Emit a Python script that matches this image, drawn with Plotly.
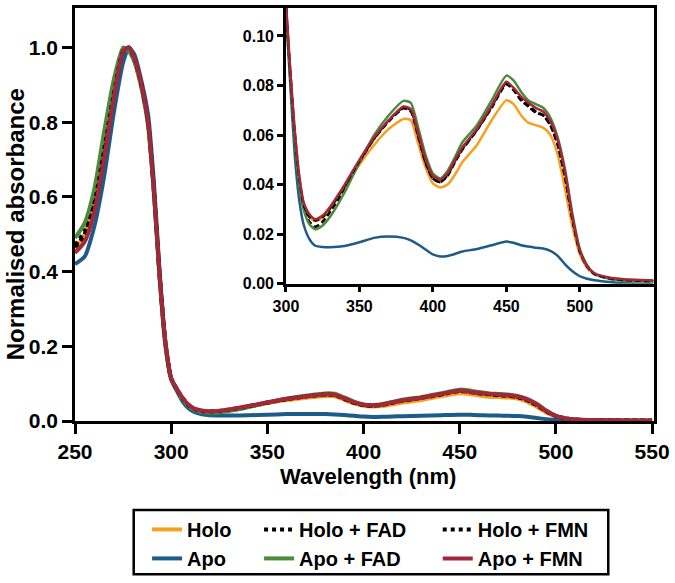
import plotly.graph_objects as go

wavelength = [250, 255, 260, 265, 270, 275, 278, 281, 285, 288, 291, 294, 297, 300, 303, 306, 309, 312, 316, 320,
              325, 330, 340, 350, 360, 370, 380, 385, 390, 395, 400, 405, 410, 415, 420, 430, 440, 450, 455, 460,
              465, 470, 475, 480, 485, 490, 495, 500, 505, 510, 520, 530, 540, 550]

holo = [0.46, 0.50, 0.585, 0.73, 0.88, 0.99, 1.0, 0.97, 0.89, 0.80, 0.62, 0.39, 0.21, 0.114, 0.085, 0.06, 0.042, 0.031, 0.027, 0.0253,
        0.0265, 0.030, 0.039, 0.048, 0.056, 0.0625, 0.0665, 0.066, 0.0565, 0.047, 0.0405, 0.0388, 0.040, 0.044, 0.049, 0.056, 0.066, 0.074, 0.0725, 0.068,
        0.065, 0.064, 0.063, 0.060, 0.052, 0.038, 0.023, 0.012, 0.0065, 0.0038, 0.0022, 0.0017, 0.0015, 0.0014]

apo = [0.42, 0.44, 0.52, 0.65, 0.82, 0.96, 1.0, 0.98, 0.90, 0.82, 0.64, 0.40, 0.21, 0.112, 0.08, 0.052, 0.034, 0.024, 0.018, 0.0153,
       0.0148, 0.0147, 0.0152, 0.0167, 0.0185, 0.019, 0.0185, 0.0175, 0.0158, 0.0138, 0.0118, 0.011, 0.0112, 0.012, 0.013, 0.014, 0.0155, 0.017, 0.0165, 0.0155,
       0.015, 0.0145, 0.0142, 0.0132, 0.0112, 0.0078, 0.005, 0.003, 0.002, 0.0014, 0.0007, 0.0002, 0.0, 0.0]

holo_fad = [0.47, 0.51, 0.60, 0.75, 0.89, 0.995, 0.995, 0.965, 0.885, 0.795, 0.615, 0.385, 0.205, 0.113, 0.084, 0.059, 0.041, 0.031, 0.025, 0.023,
            0.025, 0.029, 0.038, 0.049, 0.0585, 0.066, 0.0712, 0.070, 0.060, 0.049, 0.0425, 0.041, 0.0438, 0.0495, 0.0545, 0.062, 0.0715, 0.081, 0.0785, 0.0745,
            0.072, 0.0695, 0.068, 0.064, 0.056, 0.043, 0.026, 0.013, 0.0068, 0.0038, 0.002, 0.0014, 0.0012, 0.001]

apo_fad = [0.49, 0.53, 0.62, 0.77, 0.91, 1.0, 0.99, 0.96, 0.88, 0.79, 0.61, 0.38, 0.20, 0.112, 0.083, 0.058, 0.040, 0.030, 0.024, 0.022,
           0.0235, 0.027, 0.037, 0.049, 0.060, 0.068, 0.0738, 0.073, 0.063, 0.052, 0.0445, 0.0425, 0.0455, 0.051, 0.057, 0.064, 0.074, 0.084, 0.082, 0.0775,
           0.074, 0.0725, 0.071, 0.067, 0.059, 0.046, 0.028, 0.014, 0.0075, 0.004, 0.002, 0.0012, 0.001, 0.001]

holo_fmn = [0.465, 0.50, 0.58, 0.72, 0.87, 0.99, 1.0, 0.97, 0.89, 0.80, 0.62, 0.39, 0.21, 0.114, 0.085, 0.061, 0.043, 0.032, 0.027, 0.0255,
            0.027, 0.0305, 0.0395, 0.0495, 0.0585, 0.0655, 0.0708, 0.0695, 0.0595, 0.049, 0.0425, 0.041, 0.0435, 0.049, 0.054, 0.062, 0.071, 0.0805, 0.078, 0.074,
            0.0715, 0.069, 0.068, 0.064, 0.056, 0.043, 0.026, 0.013, 0.007, 0.004, 0.0022, 0.0015, 0.0012, 0.001]

apo_fmn = [0.45, 0.48, 0.56, 0.70, 0.86, 0.99, 1.0, 0.97, 0.89, 0.80, 0.62, 0.39, 0.21, 0.115, 0.086, 0.062, 0.044, 0.033, 0.028, 0.026,
           0.0275, 0.031, 0.040, 0.050, 0.059, 0.066, 0.0715, 0.0705, 0.061, 0.0505, 0.0435, 0.042, 0.0445, 0.050, 0.055, 0.0625, 0.072, 0.0815, 0.079, 0.0755,
           0.073, 0.071, 0.0695, 0.0655, 0.058, 0.045, 0.027, 0.0135, 0.007, 0.0042, 0.0025, 0.0018, 0.0015, 0.0013]

main_xticks = [250, 300, 350, 400, 450, 500, 550]
main_yticks = [0.0, 0.2, 0.4, 0.6, 0.8, 1.0]
inset_xticks = [300, 350, 400, 450, 500]
inset_yticks = [0.00, 0.02, 0.04, 0.06, 0.08, 0.10]

series = [
    ("Holo", holo, "#F5A01E", "solid", "legend"),
    ("Apo", apo, "#1D5C88", "solid", "legend"),
    ("Holo + FAD", holo_fad, "#000000", "dot", "legend2"),
    ("Apo + FAD", apo_fad, "#4B8B3B", "solid", "legend2"),
    ("Holo + FMN", holo_fmn, "#000000", "dot", "legend3"),
    ("Apo + FMN", apo_fmn, "#A3263B", "solid", "legend3"),
]

FONT = "Liberation Sans, Arial, sans-serif"
fig = go.Figure()

for name, vals, color, dash, lg in series:
    fig.add_trace(go.Scatter(
        x=wavelength, y=vals, name=name, mode="lines",
        line=dict(color=color, width=4, dash=dash, shape="spline", smoothing=0.6),
        legend=lg, xaxis="x", yaxis="y"))

for name, vals, color, dash, lg in series:
    fig.add_trace(go.Scatter(
        x=wavelength, y=vals, name=name, mode="lines", showlegend=False,
        line=dict(color=color, width=2.5, dash=("6px,3px" if dash == "dot" else "solid"),
                  shape="spline", smoothing=0.6),
        xaxis="x2", yaxis="y2"))

axis_common = dict(showline=True, linecolor="black", linewidth=2.5, mirror=True,
                   ticks="outside", tickcolor="black", tickwidth=2.5,
                   showgrid=False, zeroline=False)

legend_common = dict(orientation="v", bgcolor="rgba(0,0,0,0)", borderwidth=0,
                     font=dict(family=FONT, size=20, color="black", weight="bold"),
                     yanchor="top", xanchor="left", y=-0.2153, tracegroupgap=0)

fig.update_layout(
    width=675, height=583,
    margin=dict(l=75, r=18, t=5, b=160),
    paper_bgcolor="white", plot_bgcolor="white",
    font=dict(family=FONT, color="black"),
    xaxis=dict(range=[250, 551], tickvals=main_xticks, ticklen=10,
               tickfont=dict(family=FONT, size=21, weight="bold"), **axis_common),
    yaxis=dict(range=[0, 1.106], tickvals=main_yticks, tickformat=".1f", ticklen=10,
               tickfont=dict(family=FONT, size=21, weight="bold"), **axis_common),
    xaxis2=dict(domain=[0.3643, 1.0], anchor="y2", range=[300, 550.5], tickvals=inset_xticks, ticklen=6,
                tickfont=dict(family=FONT, size=16, weight="bold"), **axis_common),
    yaxis2=dict(domain=[0.3325, 1.0], anchor="x2", range=[0, 0.1113], tickvals=inset_yticks,
                tickformat=".2f", ticklen=6,
                tickfont=dict(family=FONT, size=16, weight="bold"), **axis_common),
    legend=dict(x=0.1245, **legend_common),
    legend2=dict(x=0.3179, **legend_common),
    legend3=dict(x=0.6265, **legend_common),
    shapes=[dict(type="rect", xref="paper", yref="paper",
                 x0=0.1014, x1=0.921, y0=-0.3708, y1=-0.2153,
                 line=dict(color="black", width=2.5), fillcolor="rgba(0,0,0,0)")],
    annotations=[
        dict(text="Normalised absorbance", xref="paper", yref="paper", x=-0.1015, y=0.477,
             textangle=-90, showarrow=False, xanchor="center", yanchor="middle",
             font=dict(family=FONT, size=24, color="black", weight="bold")),
        dict(text="Wavelength (nm)", xref="paper", yref="paper", x=0.506, y=-0.1335,
             showarrow=False, xanchor="center", yanchor="middle",
             font=dict(family=FONT, size=22, color="black", weight="bold")),
    ],
)

fig.write_html("out.html", post_script="document.body.style.margin='0';",
               config={"displayModeBar": False})
